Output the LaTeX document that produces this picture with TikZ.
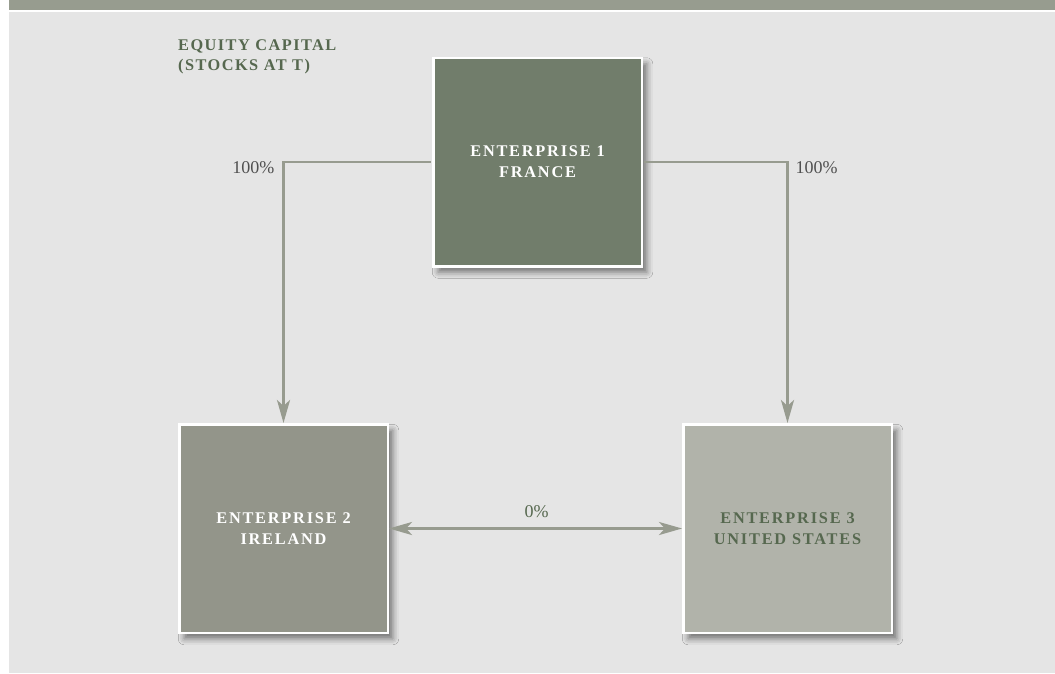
\documentclass[tikz,border=0pt]{standalone}
\usepackage{fontspec}
\setmainfont{Liberation Serif}
\newfontfamily\spacedserif{Liberation Serif}[LetterSpace=11]
\newfontfamily\titleserif{Liberation Serif}[LetterSpace=9]
\usetikzlibrary{arrows.meta,shadows.blur}

\definecolor{barcol}{HTML}{979C8F}
\definecolor{bgcol}{HTML}{E5E5E5}
\definecolor{entA}{HTML}{717D6B}
\definecolor{entB}{HTML}{93958A}
\definecolor{entC}{HTML}{B1B3AA}
\definecolor{linkcol}{HTML}{979B8F}
\definecolor{txtgreen}{HTML}{56684F}
\definecolor{lblgray}{HTML}{505050}

\tikzset{
  entbox/.style={rectangle, draw=white, line width=2.5pt,
    minimum width=208.5pt, minimum height=208.5pt, inner sep=0pt,
    align=center, font=\fontsize{16.3}{21}\selectfont\spacedserif\bfseries,
    blur shadow={shadow xshift=5pt, shadow yshift=-6pt,
      shadow blur radius=6pt, shadow opacity=50}},
  link/.style={draw=linkcol, line width=2.8pt,
    arrows={-Stealth[length=23pt, width=13pt, inset=6pt]}},
  twoway/.style={link, arrows={Stealth[length=23pt, width=13pt, inset=6pt]-Stealth[length=23pt, width=13pt, inset=6pt]}},
  pct/.style={font=\fontsize{18}{20}\selectfont, inner sep=0pt},
}

\begin{document}
\begin{tikzpicture}[x=1pt,y=-1pt]
  \useasboundingbox (0,0) rectangle (1055,673);
  % page frame: header band and grey panel
  \fill[white] (0,0) rectangle (1055,673);
  \fill[barcol] (9,0) rectangle (1055,9.5);
  \fill[bgcol] (9,12) rectangle (1055,673);

  % heading
  \node[anchor=base west, align=left, inner sep=0pt, text=txtgreen,
        font=\fontsize{16.3}{20}\selectfont\titleserif\bfseries]
    (title) at (178,70) {EQUITY CAPITAL\\(STOCKS AT T)};

  % enterprises
  \node[entbox, fill=entA, text=white] (e1) at (537.5,162) {ENTERPRISE 1\\FRANCE};
  \node[entbox, fill=entB, text=white] (e2) at (283.5,528.5) {ENTERPRISE 2\\IRELAND};
  \node[entbox, fill=entC, text=txtgreen] (e3) at (787.5,528.5) {ENTERPRISE 3\\UNITED STATES};

  % holdings
  \draw[link, shorten <=1.25pt, shorten >=0pt] (e1.west) -| (e2.north);
  \draw[link, shorten <=1.25pt, shorten >=0pt] (e1.east) -| (e3.north);
  \draw[twoway] (e2.east) -- (e3.west);

  % percentages
  \node[pct, anchor=base east, text=lblgray] (p12) at (274.5,173) {100\%};
  \node[pct, anchor=base west, text=lblgray] (p13) at (795.5,173) {100\%};
  \node[pct, anchor=base, text=txtgreen] (p23) at (536.5,517) {0\%};
\end{tikzpicture}
\end{document}
